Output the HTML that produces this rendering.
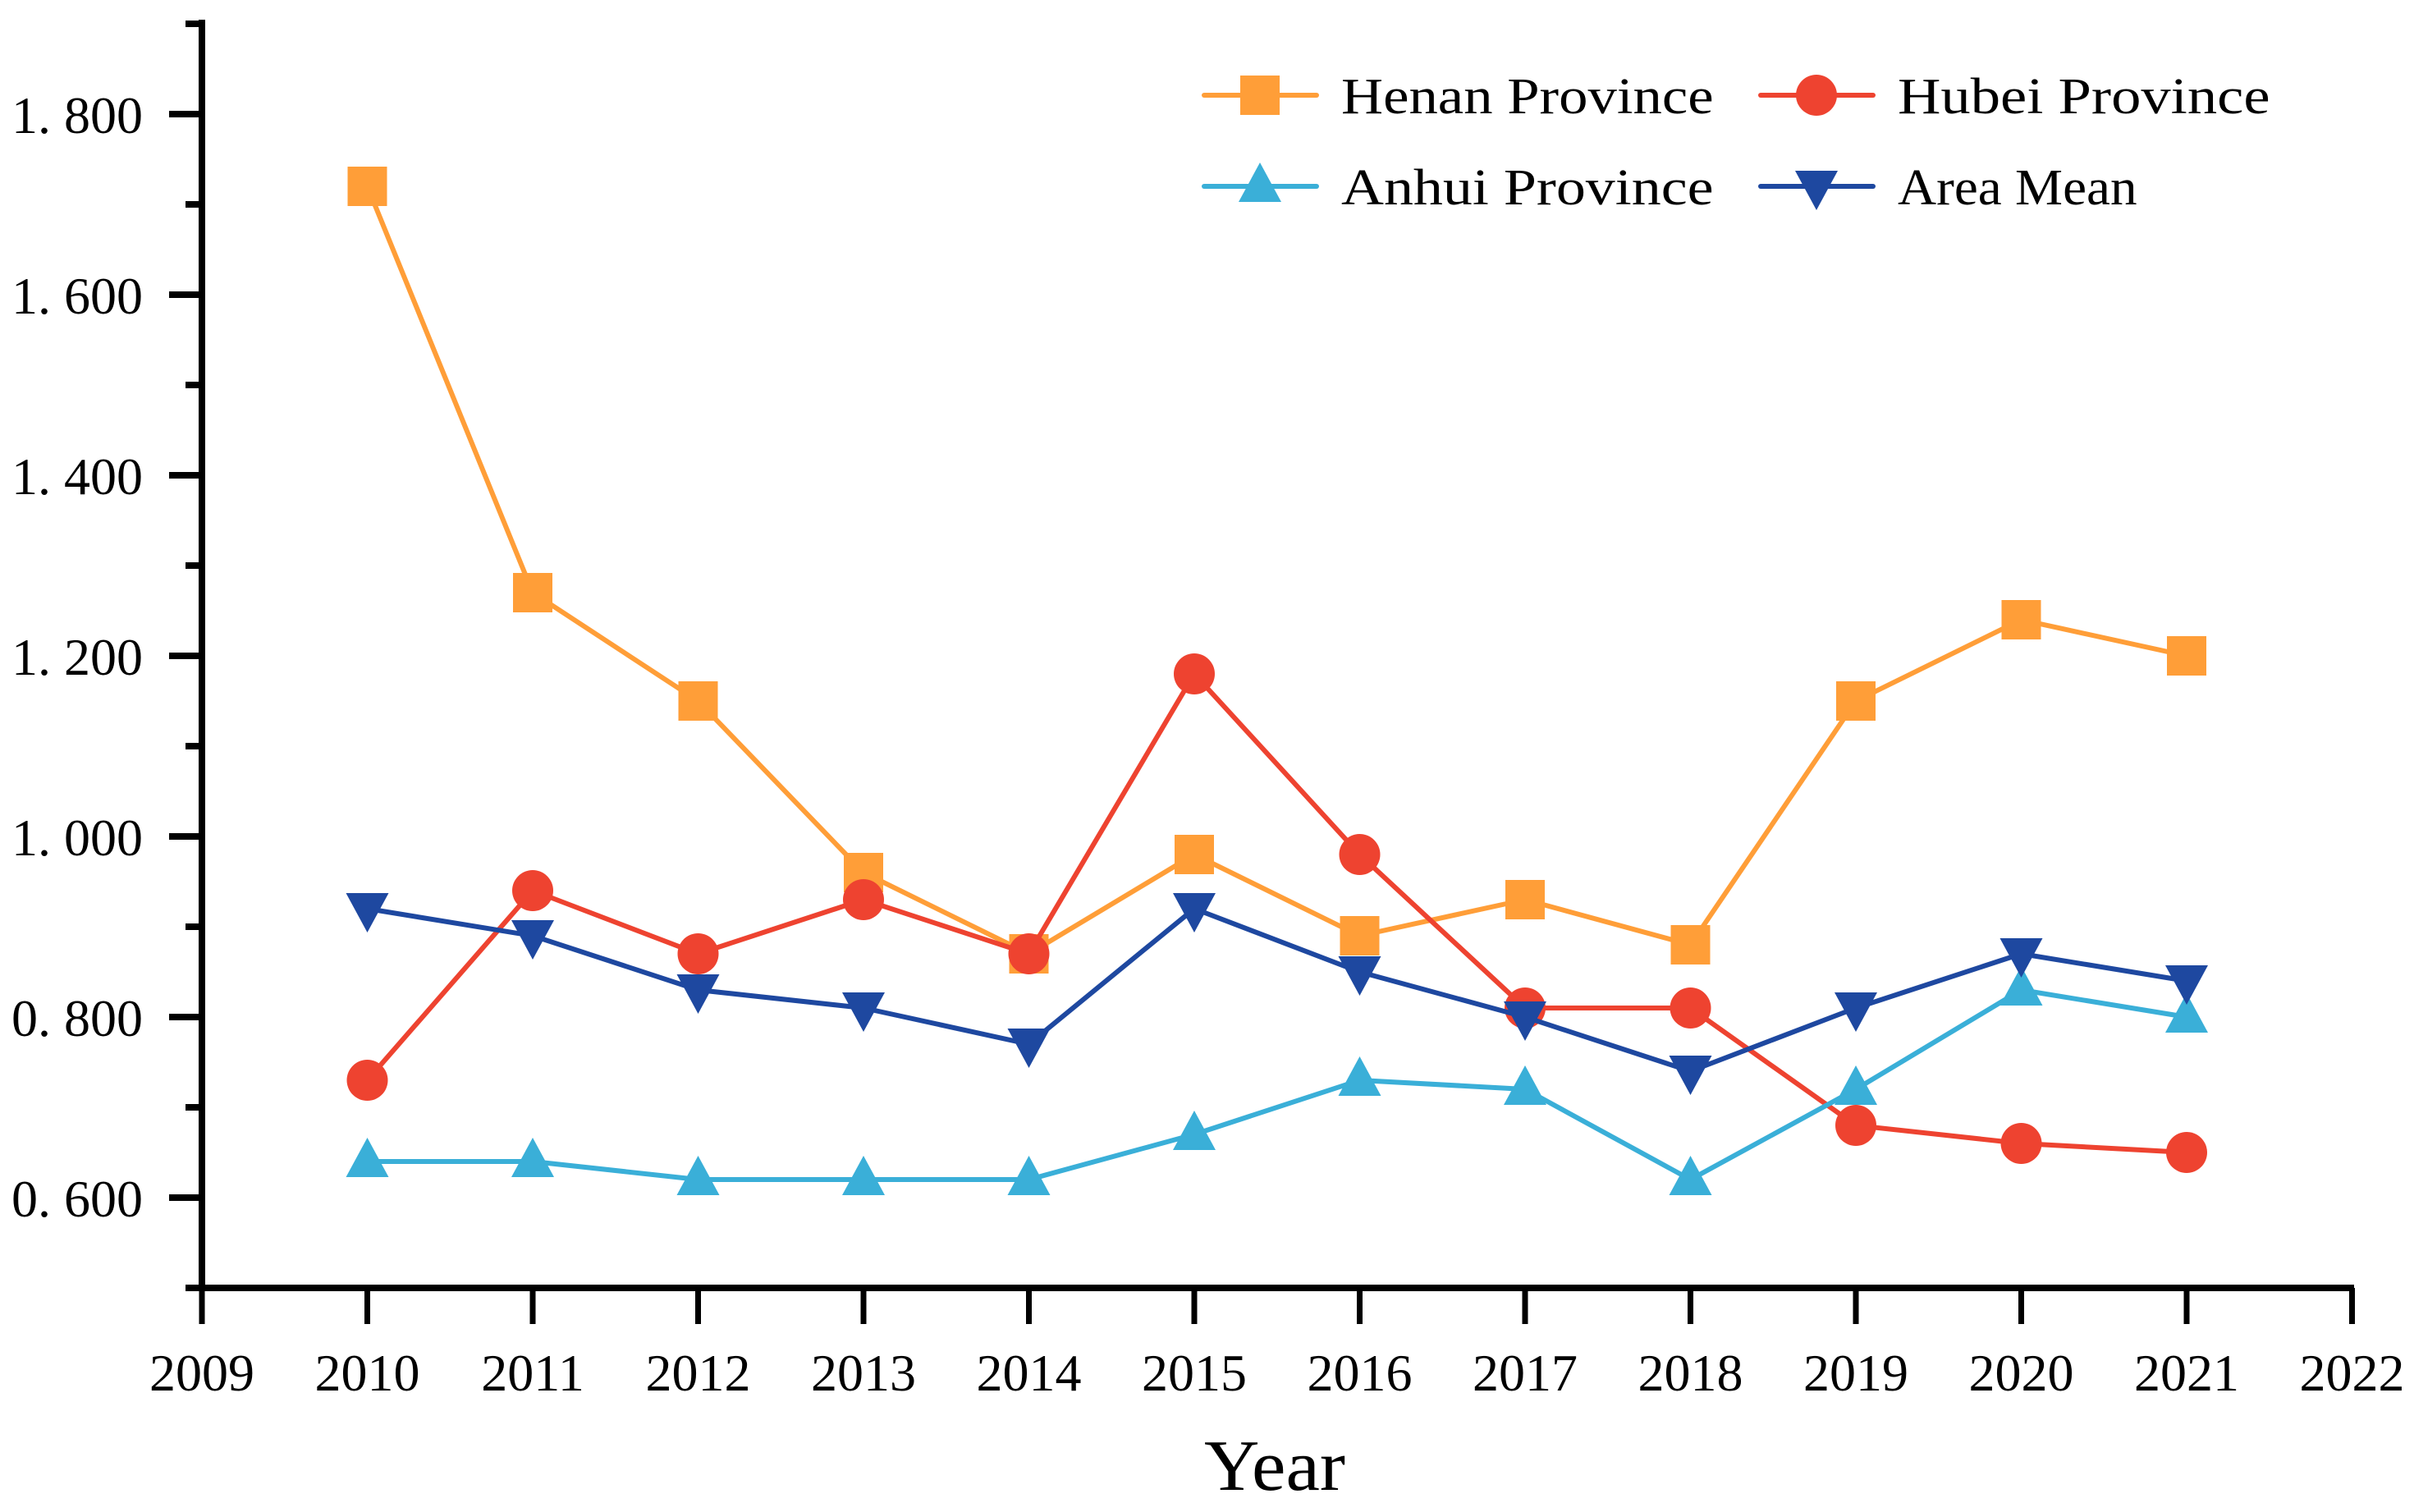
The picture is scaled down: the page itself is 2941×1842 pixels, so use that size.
<!DOCTYPE html>
<html><head><meta charset="utf-8"><style>
html,body{margin:0;padding:0;background:#fff;}
svg text{font-family:"Liberation Serif","Noto Serif CJK SC",serif;fill:#000;}
</style></head><body>
<svg id="chart" width="2941" height="1837" viewBox="0 0 2941 1837" xmlns="http://www.w3.org/2000/svg">
<g id="axes"></g>
<g id="series"></g>
<g id="legend"></g>
<text x="1553" y="1815" font-size="88" text-anchor="middle" textLength="172" lengthAdjust="spacingAndGlyphs">Year</text>
</svg>
<script>
const years = [2010,2011,2012,2013,2014,2015,2016,2017,2018,2019,2020,2021];
const henan = [1.72,1.27,1.15,0.96,0.87,0.98,0.89,0.93,0.88,1.15,1.24,1.20];
const hubei = [0.73,0.94,0.87,0.93,0.87,1.18,0.98,0.81,0.81,0.68,0.66,0.65];
const anhui = [0.64,0.64,0.62,0.62,0.62,0.67,0.73,0.72,0.62,0.72,0.83,0.80];
const areaMean = [0.92,0.89,0.83,0.81,0.77,0.92,0.85,0.80,0.74,0.81,0.87,0.84];
const xTickLabels = ["2009","2010","2011","2012","2013","2014","2015","2016","2017","2018","2019","2020","2021","2022"];
const yTickLabels = ["0.600","0.800","1.000","1.200","1.400","1.600","1.800"];
const yTickValues = [0.6,0.8,1.0,1.2,1.4,1.6,1.8];

const NS="http://www.w3.org/2000/svg";
const X0=246, PXY=201.5, Y0=139, PXV=1100;
function xs(yr){return X0+(yr-2009)*PXY;}
function ys(v){return Y0+(1.8-v)*PXV;}
function mk(tag,attrs,parent){const e=document.createElementNS(NS,tag);for(const k in attrs)e.setAttribute(k,attrs[k]);parent.appendChild(e);return e;}
const axes=document.getElementById('axes');
let el;
el=mk('line',{x1:X0,y1:24,x2:X0,y2:ys(0.5)+4,stroke:'#000','stroke-width':8},axes);


el=mk('line',{x1:226,y1:ys(0.5),x2:2868,y2:ys(0.5),stroke:'#000','stroke-width':8},axes);


yTickValues.forEach((v,i)=>{
  let t=mk('line',{x1:X0-40,y1:ys(v),x2:X0,y2:ys(v),stroke:'#000','stroke-width':8},axes);
  
  
  let m=mk('line',{x1:X0-20,y1:ys(v+0.1),x2:X0,y2:ys(v+0.1),stroke:'#000','stroke-width':8},axes);
  
  
  let tx=mk('text',{x:174,y:ys(v)+23,'font-size':64,'text-anchor':'end'},axes);
  tx.textContent=yTickLabels[i].replace('.','. ');
  
  
});
xTickLabels.forEach((lab,i)=>{
  const x=xs(2009+i);
  let t=mk('line',{x1:x,y1:ys(0.5),x2:x,y2:ys(0.5)+44,stroke:'#000','stroke-width':7},axes);
  
  
  let tx=mk('text',{x:x,y:1694,'font-size':64,'text-anchor':'middle'},axes);
  tx.textContent=lab;
  
  
});
function marker(shape,cx,cy,color,parent){
  let e;
  if(shape==='square') e=mk('rect',{x:cx-24,y:cy-24,width:48,height:48,fill:color},parent);
  else if(shape==='circle') e=mk('circle',{cx:cx,cy:cy,r:25,fill:color},parent);
  else if(shape==='up') e=mk('polygon',{points:`${cx},${cy-29} ${cx-26},${cy+19} ${cx+26},${cy+19}`,fill:color},parent);
  else e=mk('polygon',{points:`${cx},${cy+29} ${cx-26},${cy-19} ${cx+26},${cy-19}`,fill:color},parent);
  return e;
}
const seriesDefs=[
  {name:'henan',vals:henan,color:'#FF9E38',shape:'square',label:'Henan Province',lx:1467,ly:116},
  {name:'hubei',vals:hubei,color:'#EE4330',shape:'circle',label:'Hubei Province',lx:2145,ly:116},
  {name:'anhui',vals:anhui,color:'#3AAFD8',shape:'up',label:'Anhui Province',lx:1467,ly:227},
  {name:'area-mean',vals:areaMean,color:'#1E48A0',shape:'down',label:'Area Mean',lx:2145,ly:227}
];
const sg=document.getElementById('series');
const lg=document.getElementById('legend');
seriesDefs.forEach(s=>{
  const g=mk('g',{},sg);
  
  
  const pts=s.vals.map((v,i)=>xs(years[i])+','+ys(v)).join(' ');
  const pl=mk('polyline',{points:pts,fill:'none',stroke:s.color,'stroke-width':6,'stroke-linejoin':'round'},g);
  
  
  s.vals.forEach((v,i)=>{
    const m=marker(s.shape,xs(years[i]),ys(v),s.color,g);
    
    
  });
  const lgi=mk('g',{},lg);
  
  
  mk('line',{x1:s.lx,y1:s.ly,x2:s.lx+137,y2:s.ly,stroke:s.color,'stroke-width':6,'stroke-linecap':'round'},lgi);
  marker(s.shape,s.lx+68,s.ly,s.color,lgi);
  const t=mk('text',{x:s.lx+167,y:s.ly+22,'font-size':62,textLength:s.label.length*32.4,lengthAdjust:'spacingAndGlyphs'},lgi);
  t.textContent=s.label;
  
  
});
</script>
</body></html>
